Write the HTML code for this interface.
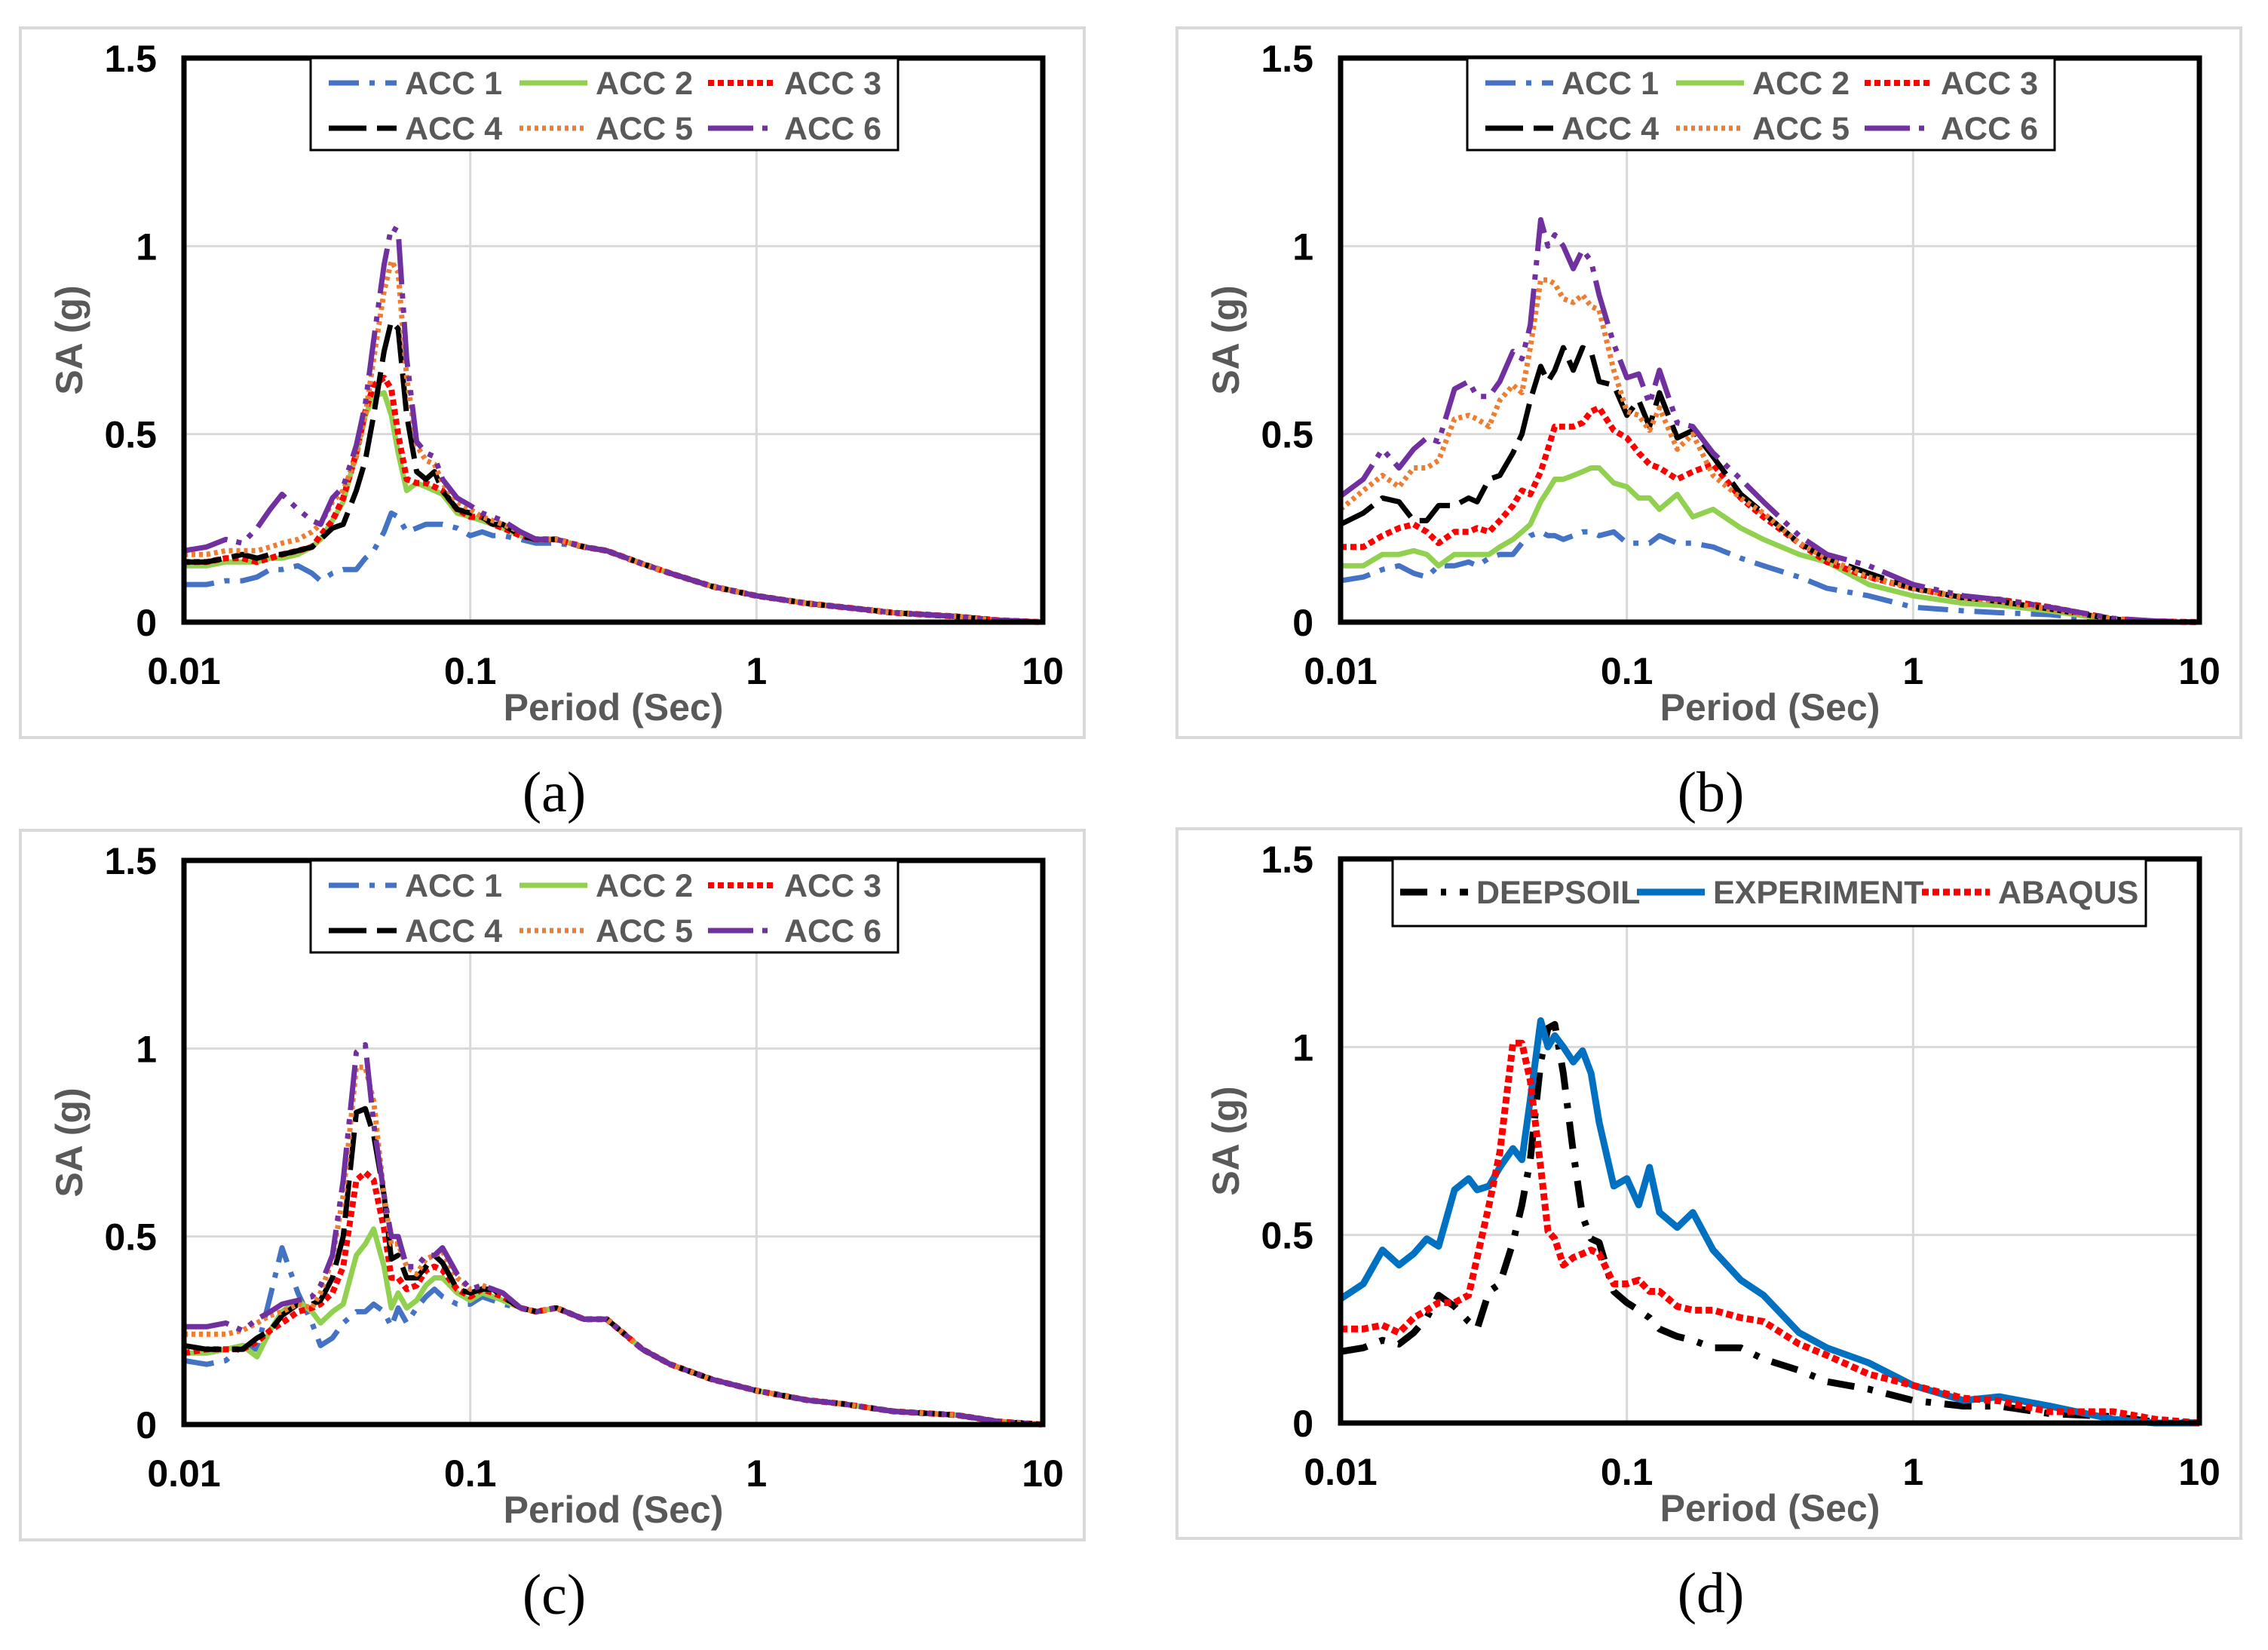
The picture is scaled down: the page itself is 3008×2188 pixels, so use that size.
<!DOCTYPE html>
<html><head><meta charset="utf-8">
<style>
html,body{margin:0;padding:0;background:#fff;}
svg{display:block;}
text{font-family:"Liberation Sans",Arial,sans-serif;}
</style></head>
<body>
<svg id="fig" width="3008" height="2188" viewBox="0 0 3008 2188" xmlns="http://www.w3.org/2000/svg"></svg>
<script>
const periods = [0.01,0.012,0.014,0.016,0.018,0.02,0.022,0.025,0.028,0.03,0.033,0.036,0.04,0.043,0.046,0.05,0.053,0.056,0.06,0.065,0.07,0.075,0.08,0.09,0.1,0.11,0.12,0.13,0.15,0.17,0.2,0.25,0.3,0.4,0.5,0.7,1,1.5,2,3,5,7,10];
const tailA = [0.155,0.13,0.095,0.07,0.05,0.04,0.025,0.015,0.005,0];
const tailC = [0.20,0.16,0.12,0.09,0.065,0.055,0.035,0.025,0.008,0];
const a1 = [0.10,0.10,0.11,0.11,0.12,0.14,0.14,0.15,0.13,0.11,0.13,0.14,0.14,0.17,0.19,0.24,0.29,0.28,0.24,0.25,0.26,0.26,0.26,0.25,0.23,0.24,0.23,0.23,0.22,0.21,0.21,0.20,0.19].concat(tailA);
const a2 = [0.15,0.15,0.16,0.16,0.16,0.17,0.17,0.18,0.20,0.22,0.27,0.32,0.45,0.55,0.60,0.61,0.55,0.45,0.35,0.37,0.36,0.35,0.34,0.29,0.28,0.27,0.26,0.25,0.23,0.22,0.22,0.20,0.19].concat(tailA);
const a3 = [0.16,0.16,0.17,0.17,0.16,0.17,0.18,0.19,0.20,0.23,0.27,0.33,0.45,0.56,0.63,0.65,0.62,0.50,0.38,0.37,0.37,0.36,0.35,0.30,0.28,0.28,0.26,0.25,0.23,0.22,0.22,0.20,0.19].concat(tailA);
const a4 = [0.16,0.16,0.17,0.18,0.17,0.18,0.18,0.19,0.20,0.22,0.25,0.26,0.35,0.43,0.55,0.72,0.80,0.78,0.55,0.40,0.38,0.40,0.35,0.30,0.29,0.28,0.26,0.26,0.23,0.22,0.22,0.20,0.19].concat(tailA);
const a5 = [0.18,0.18,0.19,0.19,0.19,0.20,0.21,0.22,0.24,0.26,0.32,0.35,0.44,0.55,0.70,0.88,0.96,0.93,0.65,0.47,0.43,0.42,0.37,0.32,0.30,0.28,0.27,0.26,0.24,0.22,0.22,0.20,0.19].concat(tailA);
const a6 = [0.19,0.20,0.22,0.21,0.25,0.30,0.34,0.30,0.27,0.26,0.33,0.36,0.47,0.58,0.75,0.95,1.05,1.04,0.70,0.48,0.45,0.44,0.38,0.33,0.31,0.29,0.28,0.27,0.24,0.22,0.22,0.20,0.19].concat(tailA);
const b1 = [0.11,0.12,0.14,0.15,0.13,0.12,0.15,0.15,0.16,0.15,0.17,0.18,0.18,0.21,0.23,0.24,0.23,0.23,0.22,0.23,0.24,0.24,0.23,0.24,0.21,0.21,0.21,0.23,0.21,0.21,0.20,0.17,0.15,0.12,0.09,0.07,0.04,0.03,0.025,0.02,0.003,0,0];
const b2 = [0.15,0.15,0.18,0.18,0.19,0.18,0.15,0.18,0.18,0.18,0.18,0.20,0.22,0.24,0.26,0.32,0.35,0.38,0.38,0.39,0.40,0.41,0.41,0.37,0.36,0.33,0.33,0.30,0.34,0.28,0.30,0.25,0.22,0.18,0.16,0.10,0.07,0.05,0.045,0.03,0.005,0.001,0];
const b3 = [0.20,0.20,0.23,0.25,0.26,0.24,0.21,0.24,0.24,0.25,0.24,0.27,0.31,0.35,0.34,0.40,0.46,0.52,0.52,0.52,0.53,0.56,0.57,0.51,0.49,0.45,0.42,0.41,0.38,0.40,0.42,0.33,0.28,0.21,0.16,0.12,0.09,0.065,0.06,0.04,0.008,0.002,0];
const b4 = [0.26,0.29,0.33,0.32,0.27,0.27,0.31,0.31,0.33,0.32,0.38,0.39,0.45,0.50,0.59,0.68,0.64,0.67,0.73,0.67,0.73,0.72,0.64,0.63,0.55,0.59,0.52,0.61,0.49,0.51,0.44,0.34,0.29,0.21,0.17,0.13,0.09,0.065,0.055,0.035,0.008,0.002,0];
const b5 = [0.30,0.35,0.39,0.36,0.41,0.41,0.43,0.54,0.55,0.54,0.52,0.59,0.63,0.61,0.73,0.91,0.91,0.90,0.86,0.85,0.87,0.84,0.83,0.67,0.56,0.55,0.51,0.57,0.46,0.50,0.39,0.33,0.29,0.21,0.17,0.12,0.09,0.065,0.055,0.035,0.008,0.002,0];
const b6 = [0.335,0.38,0.46,0.41,0.46,0.49,0.48,0.62,0.64,0.60,0.60,0.64,0.72,0.70,0.79,1.07,1.00,1.03,1.00,0.94,0.99,0.96,0.87,0.74,0.65,0.66,0.58,0.67,0.53,0.52,0.45,0.38,0.32,0.23,0.18,0.15,0.10,0.07,0.06,0.04,0.01,0.003,0];
const c1 = [0.17,0.16,0.17,0.21,0.20,0.34,0.47,0.35,0.27,0.21,0.23,0.27,0.30,0.30,0.32,0.30,0.26,0.31,0.27,0.31,0.34,0.36,0.34,0.32,0.32,0.34,0.33,0.32,0.31,0.30,0.31,0.28,0.28].concat(tailC);
const c2 = [0.19,0.19,0.20,0.21,0.18,0.25,0.30,0.33,0.30,0.27,0.30,0.32,0.45,0.48,0.52,0.42,0.31,0.35,0.31,0.33,0.37,0.39,0.39,0.35,0.33,0.35,0.34,0.33,0.31,0.30,0.31,0.28,0.28].concat(tailC);
const c3 = [0.19,0.20,0.20,0.20,0.22,0.25,0.27,0.30,0.31,0.32,0.35,0.42,0.65,0.67,0.65,0.52,0.39,0.39,0.36,0.37,0.41,0.42,0.41,0.36,0.34,0.36,0.35,0.34,0.31,0.30,0.31,0.28,0.28].concat(tailC);
const c4 = [0.21,0.20,0.20,0.20,0.23,0.25,0.29,0.32,0.32,0.33,0.39,0.50,0.83,0.84,0.77,0.61,0.44,0.45,0.39,0.39,0.42,0.45,0.43,0.36,0.35,0.36,0.36,0.34,0.31,0.30,0.31,0.28,0.28].concat(tailC);
const c5 = [0.24,0.24,0.24,0.25,0.27,0.29,0.30,0.32,0.31,0.35,0.44,0.61,0.95,0.95,0.86,0.61,0.48,0.48,0.42,0.40,0.44,0.45,0.46,0.39,0.36,0.37,0.36,0.35,0.31,0.30,0.31,0.28,0.28].concat(tailC);
const c6 = [0.26,0.26,0.27,0.25,0.28,0.30,0.32,0.33,0.34,0.37,0.45,0.65,0.99,1.01,0.80,0.61,0.50,0.50,0.42,0.42,0.45,0.45,0.47,0.40,0.36,0.37,0.36,0.35,0.31,0.30,0.31,0.28,0.28].concat(tailC);
const dDeep = [0.19,0.20,0.22,0.21,0.24,0.28,0.34,0.31,0.27,0.25,0.35,0.37,0.48,0.58,0.70,0.96,1.05,1.06,0.93,0.72,0.55,0.49,0.48,0.35,0.32,0.30,0.28,0.25,0.23,0.22,0.20,0.20,0.17,0.14,0.11,0.09,0.06,0.045,0.045,0.025,0.017,0.003,0];
const dExp = [0.33,0.37,0.46,0.42,0.45,0.49,0.47,0.62,0.65,0.62,0.63,0.68,0.73,0.70,0.86,1.07,1.00,1.03,1.00,0.96,0.99,0.93,0.80,0.63,0.65,0.58,0.68,0.56,0.52,0.56,0.46,0.38,0.34,0.24,0.20,0.16,0.10,0.06,0.07,0.045,0.01,0,0];
const dAbq = [0.25,0.25,0.26,0.24,0.28,0.30,0.32,0.32,0.34,0.44,0.58,0.72,1.01,1.01,0.91,0.68,0.51,0.49,0.42,0.44,0.45,0.46,0.45,0.37,0.37,0.38,0.35,0.35,0.31,0.30,0.30,0.28,0.27,0.21,0.18,0.13,0.10,0.066,0.059,0.03,0.03,0.01,0];
const yTicks = [0,0.5,1,1.5];
const yTickLabels = ["0","0.5","1","1.5"];
const xTicks = [0.01,0.1,1,10];
const xTickLabels = ["0.01","0.1","1","10"];

const NS="http://www.w3.org/2000/svg";
const svg=document.getElementById('fig');
function mk(tag,attrs,parent){const e=document.createElementNS(NS,tag);for(const k in attrs)e.setAttribute(k,attrs[k]);(parent||svg).appendChild(e);return e;}

const accStyles=[
 {label:"ACC 1",color:"#4472C4",dash:"40 14 7 14",w:7},
 {label:"ACC 2",color:"#92D050",dash:"",w:7},
 {label:"ACC 3",color:"#FF0000",dash:"8 5",w:8},
 {label:"ACC 4",color:"#000000",dash:"50 14",w:7},
 {label:"ACC 5",color:"#ED7D31",dash:"5 5",w:7},
 {label:"ACC 6",color:"#7030A0",dash:"60 12 7 12 7 12",w:7}
];
const dStyles=[
 {label:"DEEPSOIL",color:"#000000",dash:"36 18 7 18",w:9},
 {label:"EXPERIMENT",color:"#0070C0",dash:"",w:9},
 {label:"ABAQUS",color:"#FF0000",dash:"9 5",w:9}
];

function panel(id,ox,oy,seriesData,styles,legend,caption){
  const L=244+ox,R=1383+ox,T=77+oy,B=825+oy;
  const g=mk('g',{});
  
  
  const xs=p=>L+(R-L)*(Math.log10(p)-(-2))/3;
  const ys=v=>B-(B-T)*v/1.5;
  const frame=mk('rect',{x:27+ox,y:37+oy,width:1411,height:941,fill:'#fff',stroke:'#d9d9d9','stroke-width':4},g);
  
  
  yTicks.forEach(t=>{ if(t>0&&t<1.5){const l=mk('line',{x1:L,x2:R,y1:ys(t),y2:ys(t),stroke:'#d9d9d9','stroke-width':3},g);}});
  xTicks.forEach(t=>{ if(t>0.01&&t<10){const l=mk('line',{x1:xs(t),x2:xs(t),y1:T,y2:B,stroke:'#d9d9d9','stroke-width':3},g);}});
  seriesData.forEach((vals,i)=>{
    const st=styles[i];
    const pts=periods.map((p,j)=>xs(p).toFixed(1)+','+ys(vals[j]).toFixed(1)).join(' ');
    const pl=mk('polyline',{points:pts,fill:'none',stroke:st.color,'stroke-width':st.w,'stroke-linejoin':'round','stroke-dasharray':st.dash},g);
    
    
  });
  const ax=mk('rect',{x:L,y:T,width:R-L,height:B-T,fill:'none',stroke:'#000','stroke-width':7},g);
  
  
  yTicks.forEach((t,i)=>{const tx=mk('text',{x:L-36,y:ys(t)+18,'text-anchor':'end','font-size':50,'font-weight':'bold',fill:'#000'},g);tx.textContent=yTickLabels[i];});
  xTicks.forEach((t,i)=>{const tx=mk('text',{x:xs(t),y:B+82,'text-anchor':'middle','font-size':50,'font-weight':'bold',fill:'#000'},g);tx.textContent=xTickLabels[i];});
  const xt=mk('text',{x:(L+R)/2,y:B+130,'text-anchor':'middle','font-size':50,'font-weight':'bold',fill:'#595959'},g);
  xt.textContent='Period (Sec)';
  
  
  const yt=mk('text',{x:0,y:0,'text-anchor':'middle','font-size':50,'font-weight':'bold',fill:'#595959',transform:`translate(${92+ox+17},${(T+B)/2}) rotate(-90)`},g);
  yt.textContent='SA (g)';
  
  
  const lg=mk('g',{},g);
  
  
  mk('rect',{x:legend.x+ox,y:T,width:legend.w,height:legend.h,fill:'#fff',stroke:'#000','stroke-width':3},lg);
  styles.forEach((st,i)=>{
    const col=i%legend.cols,row=Math.floor(i/legend.cols);
    const lx=legend.x+ox+legend.colX[col],ly=T+legend.rowY[row];
    const sw=mk('line',{x1:lx,x2:lx+90,y1:ly,y2:ly,stroke:st.color,'stroke-width':st.w,'stroke-dasharray':st.dash},lg);
    
    
    const tx=mk('text',{x:lx+legend.textOff,y:ly+15,'font-size':43,'font-weight':'bold',fill:'#595959'},lg);
    tx.textContent=st.label;
    
    
  });
  const cp=mk('text',{x:735+ox,y:1076+oy,'text-anchor':'middle','font-size':76,fill:'#000'},g);
  cp.setAttribute('style','font-family:"Liberation Serif",serif');
  cp.textContent=caption;
  
  
}
const accLegend={x:412,w:779,h:122,cols:3,colX:[24,277,527],rowY:[33,93],textOff:101};
const dLegend={x:1847-1534,w:999,h:89,cols:3,colX:[10,324,702],rowY:[44],textOff:101};
panel('a',0,0,[a1,a2,a3,a4,a5,a6],accStyles,accLegend,'(a)');
panel('b',1534,0,[b1,b2,b3,b4,b5,b6],accStyles,accLegend,'(b)');
panel('c',0,1064,[c1,c2,c3,c4,c5,c6],accStyles,accLegend,'(c)');
panel('d',1534,1062,[dDeep,dExp,dAbq],dStyles,dLegend,'(d)');
</script>
</body></html>
